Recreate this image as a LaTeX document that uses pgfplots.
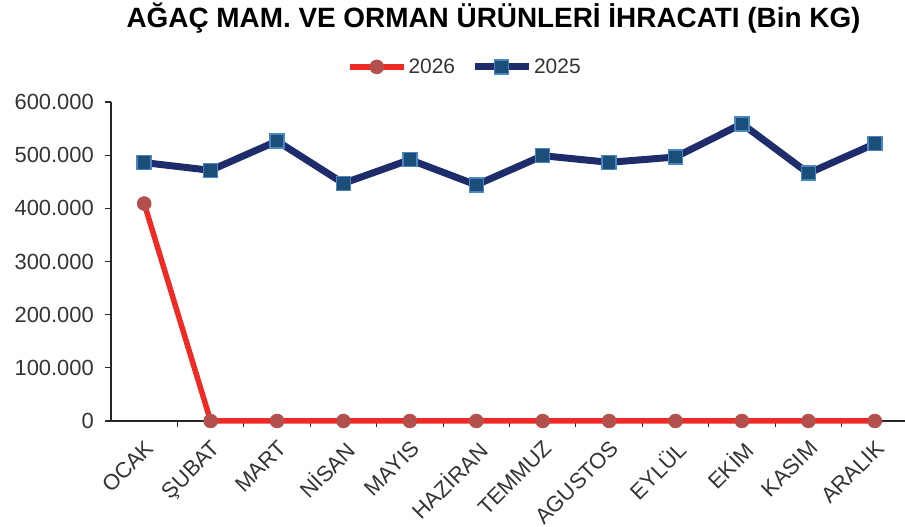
\documentclass[border=0pt]{standalone}
\usepackage{fontspec}
\setmainfont{Liberation Sans}
\usepackage{pgfplots}
\pgfplotsset{compat=1.18}
\definecolor{redline}{HTML}{EE2B24}
\definecolor{redmark}{HTML}{B3504E}
\definecolor{navyline}{HTML}{1F2C6C}
\definecolor{sqfill}{HTML}{1B4F7A}
\definecolor{sqedge}{HTML}{4A86C0}
\definecolor{ticktext}{HTML}{333333}
\begin{document}
\begin{tikzpicture}[x=1bp,y=1bp]
\path[use as bounding box] (-111,-106) rectangle (794,421);
\begin{axis}[
  at={(0,0)}, anchor=south west,
  scale only axis, width=797bp, height=319bp,
  xmin=-0.5, xmax=11.5, ymin=0, ymax=600000,
  clip=false,
  axis x line*=bottom, axis y line*=left,
  axis line style={draw=black!85, line width=1.1bp, -},
  xtick={0,...,11},
  xticklabels={OCAK,ŞUBAT,MART,NİSAN,MAYIS,HAZİRAN,TEMMUZ,AGUSTOS,EYLÜL,EKİM,KASIM,ARALIK},
  major x tick style={draw=none},
  minor xtick={0.5,1.5,...,10.5},
  minor tick style={draw=black!85, line width=1.1bp},
  major tick style={draw=black!85, line width=1.1bp},
  tick align=outside, major tick length=6bp, minor tick length=6bp,
  ytick={0,100000,200000,300000,400000,500000,600000},
  scaled y ticks=false,
  /pgf/number format/fixed,
  /pgf/number format/1000 sep={.},
  /pgf/number format/assume math mode=true,
  tick label style={font=\fontsize{22}{25}\selectfont, text=ticktext},
  xticklabel style={rotate=45, anchor=north east, inner sep=2bp},
  xticklabel shift=9bp,
  yticklabel style={inner sep=11bp},
  title={AĞAÇ MAM. VE ORMAN ÜRÜNLERİ İHRACATI (Bin KG)},
  title style={font=\bfseries\fontsize{28}{32}\selectfont, at={(0.48,1.245)}, anchor=center},
  legend style={draw=none, fill=none, at={(0.444,1.11)}, anchor=center,
    legend columns=2, font=\fontsize{21}{24}\selectfont, text=ticktext,
    /tikz/every even column/.append style={column sep=14bp}},
  legend image code/.code={\draw[mark repeat=2,mark phase=2,#1] plot coordinates {(0bp,0bp) (27bp,0bp) (54bp,0bp)};},
]
\addplot[redline, line width=5.5bp, mark=*, mark size=7bp, mark options={fill=redmark, draw=redmark, line width=0.5bp}]
  coordinates {(0,409000) (1,0) (2,0) (3,0) (4,0) (5,0) (6,0) (7,0) (8,0) (9,0) (10,0) (11,0)};
\addlegendentry{2026}
\addplot[navyline, line width=7bp, mark=square*, mark size=7bp, mark options={fill=sqfill, draw=sqedge, line width=1.5bp}]
  coordinates {(0,486000) (1,471500) (2,526500) (3,447000) (4,491500) (5,444000) (6,499000) (7,486500) (8,496500) (9,559000) (10,466000) (11,521500)};
\addlegendentry{2025}
\end{axis}
\end{tikzpicture}
\end{document}
